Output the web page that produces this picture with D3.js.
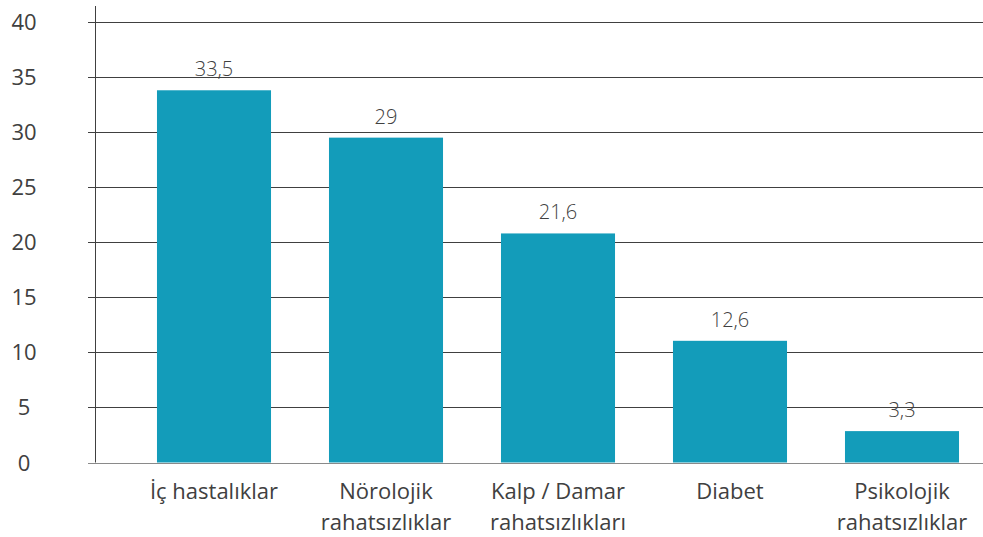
<!DOCTYPE html>
<html>
<head>
<meta charset="utf-8">
<script src="https://cdn.jsdelivr.net/npm/d3@7"></script>
<style>
  body { margin: 0; background: #fff; }
  svg { font-family: "Open Sans", sans-serif; }
</style>
</head>
<body>
<div id="chart"></div>
<script>
// categories, two-line labels
var categories = ["İç hastalıklar", "Nörolojik rahatsızlıklar", "Kalp / Damar rahatsızlıkları", "Diabet", "Psikolojik rahatsızlıklar"];
var catLines = [["İç hastalıklar"], ["Nörolojik", "rahatsızlıklar"], ["Kalp / Damar", "rahatsızlıkları"], ["Diabet"], ["Psikolojik", "rahatsızlıklar"]];
// bar heights as drawn, and the printed labels
var barValues = [33.8, 29.5, 20.8, 11.05, 2.85];
var valueLabels = ["33,5", "29", "21,6", "12,6", "3,3"];
var yTicks = [0, 5, 10, 15, 20, 25, 30, 35, 40];

var width = 983, height = 537;
var axisX = 95;

var svg = d3.select("#chart").append("svg")
  .attr("width", width)
  .attr("height", height);

var y = d3.scaleLinear().domain([0, 40]).range([462.5, 22]);

var x = d3.scaleBand()
  .domain(categories)
  .range([128, 988])
  .paddingInner(0.337)
  .paddingOuter(0.1685);

// gridlines
svg.append("g")
  .selectAll("line")
  .data(yTicks)
  .enter().append("line")
  .attr("x1", 88)
  .attr("x2", width)
  .attr("y1", function(d) { return Math.round(y(d)) + 0.5; })
  .attr("y2", function(d) { return Math.round(y(d)) + 0.5; })
  .style("stroke", function(d) { return d === 0 ? "#8a8a8a" : "#404040"; })
  .style("stroke-width", 1);

// tick labels
svg.append("g")
  .selectAll("text")
  .data(yTicks)
  .enter().append("text")
  .attr("x", 24)
  .attr("y", function(d) { return y(d) + 8; })
  .attr("text-anchor", "middle")
  .style("font-size", "22px")
  .style("fill", "#404040")
  .text(function(d) { return d; });

// bars
svg.append("g")
  .selectAll("rect")
  .data(barValues)
  .enter().append("rect")
  .attr("x", function(d, i) { return x(categories[i]); })
  .attr("width", x.bandwidth())
  .attr("y", function(d) { return y(d); })
  .attr("height", function(d) { return y(0) - y(d); })
  .style("fill", "#139cba");

// vertical axis line
svg.append("line")
  .attr("x1", axisX + 0.5).attr("x2", axisX + 0.5)
  .attr("y1", 6).attr("y2", y(0))
  .style("stroke", "#404040");

// value labels
svg.append("g")
  .selectAll("text")
  .data(barValues)
  .enter().append("text")
  .attr("x", function(d, i) { return x(categories[i]) + x.bandwidth() / 2; })
  .attr("y", function(d) { return y(d) - 14; })
  .attr("text-anchor", "middle")
  .style("font-size", "20px")
  .style("font-weight", 300)
  .style("fill", "#404040")
  .text(function(d, i) { return valueLabels[i]; });

// category labels
var cat = svg.append("g")
  .selectAll("text")
  .data(catLines)
  .enter().append("text")
  .attr("x", function(d, i) { return x(categories[i]) + x.bandwidth() / 2; })
  .attr("y", 499)
  .attr("text-anchor", "middle")
  .style("font-size", "22px")
  .style("fill", "#404040");

cat.selectAll("tspan")
  .data(function(d) { return d; })
  .enter().append("tspan")
  .attr("x", function() { return d3.select(this.parentNode).attr("x"); })
  .attr("dy", function(d, i) { return i === 0 ? 0 : 31; })
  .text(function(d) { return d; });
</script>
</body>
</html>
